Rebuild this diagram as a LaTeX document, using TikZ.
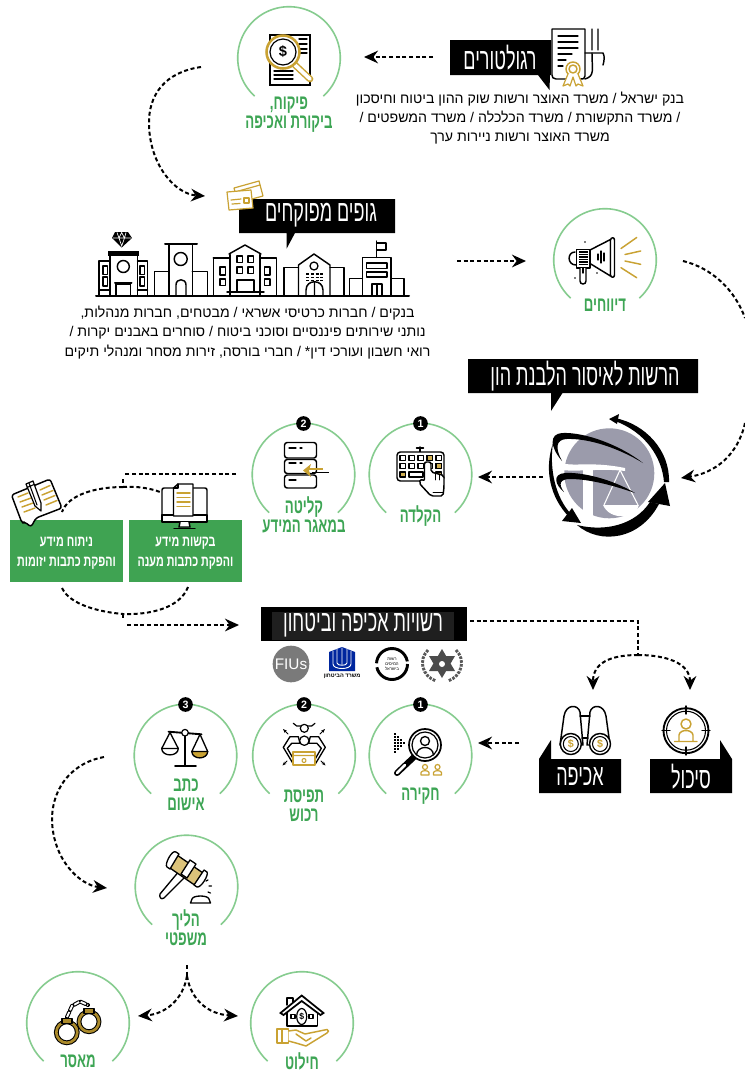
\documentclass[tikz,border=0pt]{standalone}
\usepackage{fontspec}
\usetikzlibrary{arrows.meta}
\TeXXeTstate=1
\newfontfamily\hbbody[Script=Hebrew]{Liberation Sans}
\newfontfamily\hbhead[Script=Hebrew,FakeStretch=0.6]{Liberation Sans}
\newfontfamily\hbgreen[Script=Hebrew,FakeStretch=0.64]{Liberation Sans}
\newfontfamily\hbbox[Script=Hebrew,FakeStretch=0.7]{Liberation Sans}
\setmainfont{Liberation Sans}
\newcommand\hbr[1]{\beginR #1\endR}
\definecolor{gold}{HTML}{C9A233}
\definecolor{arcgreen}{HTML}{86CC8F}
\definecolor{txtgreen}{HTML}{3DA554}
\definecolor{boxgreen}{HTML}{3FA352}
\definecolor{logogray}{HTML}{9B9BAB}
\tikzset{
  ic/.style={draw=black,line width=1.1pt,line join=round,line cap=round},
  thin ic/.style={draw=black,line width=.75pt,line cap=round},
  gd/.style={draw=gold,line width=1.1pt,line join=round,line cap=round},
  garc/.style={draw=arcgreen,line width=1.2pt},
  conn/.style={line width=1.5pt,dash pattern=on 3pt off 2pt},
  arr/.style={conn,-{Stealth[length=10.5pt,width=9.5pt,inset=3.5pt]}},
  banner/.style={fill=black},
  head/.style={text=white,font=\hbhead\fontsize{22.5}{23}\selectfont,inner sep=0pt},
  body/.style={font=\hbbody\fontsize{10.6}{14.4}\selectfont,align=center,inner sep=0pt},
  glabel/.style={text=txtgreen,font=\hbgreen\bfseries\fontsize{15.5}{14.4}\selectfont,align=center,inner sep=0pt},
  boxtxt/.style={text=white,font=\hbbox\bfseries\fontsize{11.5}{15}\selectfont,align=center,inner sep=0pt},
  badge/.style={circle,fill=black,text=white,font=\bfseries\fontsize{8}{8}\selectfont,inner sep=0pt,minimum size=11pt},
}
\newcommand\gcirc[3]{\coordinate (#1) at (#2,#3);
  \draw[garc] plot[domain=132:408,samples=70] ({#2+51.3*cos(\x)},{#3+51.3*sin(\x)});}
\begin{document}
\begin{tikzpicture}[x=.75pt,y=-.75pt]
\useasboundingbox (0,0) rectangle (745,1072);
\fill[white] (0,0) rectangle (745,1072);

% ---------- green arcs
\gcirc{cpiq}{289}{58}
\gcirc{cdiv}{605}{260}
\gcirc{ckld}{420.5}{474.5}
\gcirc{cklt}{303.5}{474.5}
\gcirc{chak}{420.5}{755.5}
\gcirc{ctfs}{304}{755.5}
\gcirc{cktv}{185.5}{755.5}
\gcirc{chal}{186.5}{886.5}
\gcirc{chil}{302}{1023}
\gcirc{cmas}{78}{1023}

% ---------- regulators
\draw[ic,fill=white] (552,29) -- (585,29) -- (585,76) .. controls (585,79) and (583,79) .. (581,79) -- (556,79) .. controls (553,79) and (552,77) .. (552,75) -- cycle;
\foreach \yy/\xe in {36/578,42/578,48/578,54/572}{\draw[ic,line width=.9pt] (558,\yy) -- (\xe,\yy);}
\draw[ic,line width=.9pt] (558,60) -- (566,60) (558,66) -- (563,66);
\draw[ic] (592,29) -- (592,50) (598,29) -- (598,50) (585,53) -- (603,53) .. controls (605,56) and (604,62) .. (603,65) ;
\draw[ic] (592,53) .. controls (592,70) and (595,76) .. (585,79);
\fill[white] (573,69) circle (9);
\draw[gd] (573,69) circle (7) (573,69) circle (4);
\draw[gd,line width=.9pt,fill=white] (568,74) -- (563,86) -- (568,84) -- (570,86) -- (573,77) -- (576,86) -- (578,84) -- (583,86) -- (578,74);
\fill[banner] (450,40) rectangle (551,75) (538,75) -- (549.5,90) -- (550,75) -- cycle;
\node[head] (reg) at (500,58) {\hbr{רגולטורים}};
\node[body] (regtxt) at (520,118) {\hbr{בנק ישראל / משרד האוצר ורשות שוק ההון ביטוח וחיסכון}\\\hbr{/ משרד התקשורת / משרד הכלכלה / משרד המשפטים /}\\\hbr{משרד האוצר ורשות ניירות ערך}};

% ---------- piquah
\draw[black,line width=1.5pt,fill=white] (270,35) rectangle (310,85);
\foreach \yy in {39,44,49,53}{\draw[ic,line width=1pt] (299,\yy) -- (307,\yy);}
\foreach \yy in {71,75,79}{\draw[ic,line width=1pt] (274,\yy) -- (293,\yy);}
\draw[gold,line width=5pt,line cap=round] (294,64) -- (310,79);
\draw[white,line width=2.8pt,line cap=round] (295,65) -- (310,79);
\fill[white] (283,52) circle (17);
\draw[gold,line width=1.9pt] (283,52) circle (16.5);
\draw[black,line width=.9pt] (283,52) circle (13);
\node[font=\bfseries\fontsize{11}{11}\selectfont,inner sep=0pt] (dollar1) at (283,52) {\$};
\node[glabel] (lpiq) at (289,115) {\hbr{פיקוח,}\\\hbr{ביקורת ואכיפה}};

% ---------- gufim
\fill[banner] (239,199) rectangle (395,233) (286.7,233) -- (286.7,248.5) -- (295,233) -- cycle;
\draw[gd,fill=white,line width=.9pt] (234,188) -- (259,181) -- (263,196) -- (250,199.5) -- (238,203) -- cycle;
\draw[gd,line width=.9pt] (235,192) -- (260,185);
\draw[gd,fill=white,line width=.9pt] (227,192) -- (251,190) -- (253,208) -- (229,210) -- cycle;
\draw[gd,line width=.9pt] (231,200) -- (241,199) (232,204) -- (240,203.5);
\draw[gd,line width=.9pt] (244,198) rectangle (249,203);
\node[head] (guf) at (321,215.5) {\hbr{גופים מפוקחים}};

% baseline
\draw[ic,line width=1.5pt] (96,296) -- (409,296);
% building 1
\draw[ic,fill=white] (110,254) rectangle (137.5,296);
\fill[black] (107.5,250.5) rectangle (139,255.5);
\draw[ic] (123.3,266.5) circle (6);
\draw[ic] (116,296) -- (116,284) -- (130.5,284) -- (130.5,296);
\draw[ic,line width=1.5pt] (115,282.5) -- (131.5,282.5);
\draw[ic] (110,261) -- (99,261) -- (99,296) (137.5,261) -- (147.5,261) -- (147.5,296);
\foreach \xx in {103,140}{\draw[ic] (\xx,266) rectangle (\xx+4.5,274.5) (\xx,277) rectangle (\xx+4.5,286);}
\draw[ic] (99,290) -- (110,290) (137.5,290) -- (147.5,290);
% diamond
\fill[black] (115,232) -- (128,232) -- (132,238) -- (121.7,247.5) -- (112,238) -- cycle;
\draw[white,line width=.5pt] (113,238) -- (131,238) (117,232.5) -- (119,238) -- (121.7,246) -- (124.5,238) -- (126,232.5) (119,238) -- (121.7,232.5) -- (124.5,238);
% building 2
\draw[ic] (169,296) -- (169,244) (192.3,296) -- (192.3,244);
\draw[ic,line width=1.5pt] (165,244) -- (197,244);
\draw[ic] (180.7,259) circle (6.5);
\draw[ic] (176,296) -- (176,285) .. controls (176,278) and (186,278) .. (186,285) -- (186,296);
\draw[ic] (154.3,296) -- (154.3,271.5) -- (169,271.5) (192.3,271.5) -- (207.5,271.5) -- (207.5,296);
% building 3
\draw[ic] (230,296) -- (230,254) (260,296) -- (260,254);
\draw[ic,fill=white] (229,254) -- (245,245) -- (261,254) ;
\draw[ic] (213.3,296) -- (213.3,258) (213.3,258) -- (230,258) (260,258) -- (276.7,258) -- (276.7,296);
\foreach \xx in {237,248}{\draw[ic,line width=.95pt] (\xx,256) rectangle (\xx+5.5,262.5) (\xx,267) rectangle (\xx+5.5,273.5);}
\draw[ic,line width=.95pt] (220,267) rectangle (225.5,275) (220,279) rectangle (225.5,285.5) (264.5,267) rectangle (270,275) (264.5,279) rectangle (270,285.5);
\draw[ic] (237,292) -- (237,280) -- (254,280) -- (254,292) (227,292) -- (264,292);
% building 4
\draw[ic] (298.5,296) -- (298.5,265) -- (314,254) -- (330,265) -- (330,296);
\draw[ic] (298.5,267.5) -- (284,267.5) -- (284,296) (330,267.5) -- (344,267.5) -- (344,296);
\draw[ic,line width=.95pt] (314,266) circle (4);
\foreach \yy in {274,277.5,280.5}{\draw[black,line width=1.1pt,dash pattern=on 2.2pt off 1.4pt] (306,\yy) -- (323,\yy);}
\draw[ic] (306,296) -- (306,290) .. controls (306,279) and (323,279) .. (323,290) -- (323,296) (314.5,283) -- (314.5,296);
% building 5
\draw[ic] (362.5,296) -- (362.5,257.5) -- (391,257.5) -- (391,296);
\draw[ic] (376.7,257.5) -- (376.7,241) (376.7,243) -- (386,243) -- (386,250) -- (376.7,250);
\draw[ic] (366.5,263) rectangle (387,268.5) (366.5,272) rectangle (387,277);
\draw[ic] (372,296) -- (372,284) -- (382,284) -- (382,296) (377,284) -- (377,296);
\draw[ic] (362.5,278.5) -- (349.5,278.5) -- (349.5,296) (391,278.5) -- (404,278.5) -- (404,296);
\node[body] (guftxt) at (247.5,332.5) {\hbr{בנקים / חברות כרטיסי אשראי / מבטחים, חברות מנהלות,}\\\hbr{נותני שירותים פיננסיים וסוכני ביטוח / סוחרים באבנים יקרות /}\\\hbr{רואי חשבון ועורכי דין* / חברי בורסה, זירות מסחר ומנהלי תיקים}};

% ---------- divuchim
\draw[ic,fill=white] (590,250) -- (610.5,239.5) -- (610.5,276) -- (590,263.5) -- cycle;
\draw[ic,fill=white] (610.5,240) .. controls (611,237) and (614.5,237) .. (614.5,240) -- (614.5,275) .. controls (614.5,278) and (611,278) .. (610.5,275) -- cycle;
\draw[ic,line width=.8pt] (598,254) -- (598,260) (601,251) -- (601,263) (604,253) -- (604,261);
\draw[ic,fill=white] (575,252) .. controls (567,252) and (567,265) .. (576,265);
\draw[ic,fill=white] (576.5,249.5) rectangle (590,268);
\foreach \yy in {252,254.5,257,259.5,262,264.5}{\draw[black,line width=.9pt] (579,\yy) -- (587.5,\yy);}
\draw[ic,fill=white] (580,268) -- (580,281) .. controls (580,285) and (586,285) .. (586,281) -- (586,268);
\draw[ic] (583,268) -- (583,273);
\fill (585,242) circle (.9) (575,278) circle (.9) (597,273) circle (.9);
\draw[gd] (621,248.5) -- (636.7,237.5) (625,254.5) -- (640.7,251) (625,261) -- (640.7,264.3) (621,267.7) -- (636.7,277.7);
\node[glabel] (ldiv) at (605,305) {\hbr{דיווחים}};

% ---------- reshut logo
\fill[banner] (468,359) rectangle (698,393) (551,393) -- (551,411) -- (562.5,393) -- cycle;
\node[head] (resh) at (585,376.5) {\hbr{הרשות לאיסור הלבנת הון}};
\fill[logogray] (609.3,473.3) circle (45);
\fill[white] (561,463) .. controls (575,467) and (590,461) .. (625,468) -- (625,471) .. controls (600,468) and (580,472) .. (561,470) -- cycle;
\fill[white] (583,466) rectangle (593,522);
\draw[white,line width=.8pt] (620,470) -- (604,505) (620,470) -- (638,505);
\fill[white] (603,505) -- (639,505) .. controls (636,519) and (610,521) .. (603,505) -- cycle;
\fill[black] (609,419) -- (619,414) -- (617,424) -- cycle;
\fill[black] (615,418) .. controls (645,424) and (670,450) .. (669,482) -- (664,482) .. controls (662,457) and (645,432) .. (615,421) -- cycle;
\fill[black] (643,463) .. controls (620,445) and (585,432) .. (562,433) .. controls (549,434) and (550,447) .. (562,461) .. controls (555,448) and (556,440) .. (566,439) .. controls (590,438) and (620,449) .. (643,463) -- cycle;
\fill[black] (635,493) .. controls (610,478) and (580,472) .. (565,473) .. controls (552,474) and (555,485) .. (564,492) .. controls (558,484) and (560,479) .. (570,479) .. controls (590,479) and (615,486) .. (635,493) -- cycle;
\fill[black] (553,443) .. controls (544,470) and (550,497) .. (569,517) -- (571,514) .. controls (556,498) and (549,470) .. (553,443) -- cycle;
\fill[black] (581,523) -- (562,521) -- (572,508) -- cycle;
\fill[black] (577,525) .. controls (600,545) and (640,540) .. (659,504) -- (650,502) .. controls (635,525) and (605,532) .. (577,525) -- cycle;
\fill[black] (665,483) -- (648,502) -- (670,506) -- cycle;

% ---------- hakleda
\node[badge] (b1a) at (420.5,423.5) {1};
\draw[ic] (420,447) -- (420,452) (416.5,448) -- (423.5,448);
\draw[ic,fill=white,rounded corners=2.5pt] (397,452) rectangle (444,481);
\foreach \xx in {400,409,418,427,436}{\foreach \yy in {455.5,463.5}{\draw[ic,line width=.8pt] (\xx,\yy) rectangle (\xx+5.5,\yy+5);}}
\draw[ic,line width=.8pt,fill=gold!85] (427,455.5) rectangle (432.5,460.5) (436,463.5) rectangle (441.5,468.5) (400,472) rectangle (405.5,477) (436,472) rectangle (441.5,477);
\draw[ic,line width=.8pt] (409,472) rectangle (423,477);
\draw[ic,fill=white,rounded corners=1.5pt] (424.5,462) -- (431,462) -- (431,472) -- (444,475.5) -- (444,487) -- (443,496) -- (431,496) -- (419,483) -- (421,479) -- (424.5,481) -- cycle;
\draw[ic,line width=.7pt] (435,474) -- (435,480) (439.5,475) -- (439.5,480) (433,492) -- (443,492);
\node[glabel] (lkld) at (420.5,516) {\hbr{הקלדה}};

% ---------- klita
\node[badge] (b2a) at (303.5,423.5) {2};
\draw[ic,fill=white,rounded corners=2pt] (284.5,442.5) rectangle (316.5,458);
\draw[ic,fill=white,rounded corners=2pt] (284.5,459.5) rectangle (316.5,473.5);
\draw[ic,fill=white,rounded corners=2pt] (284.5,475) rectangle (316.5,488);
\draw[ic,line width=.9pt] (289,448) -- (296,448) (300,448) -- (302,448) (289,463) -- (296,463) (300,463) -- (302,463) (289,480) -- (296,480);
\draw[black,line width=.8pt] (312,472.5) -- (329,472.5);
\draw[gold,line width=1.5pt] (307,469) -- (323,469);
\fill[gold] (303,470.5) -- (311,464) -- (309,470.5) -- (311,477) -- cycle;
\node[glabel] (lklt) at (304,514.5) {\hbr{קליטה}\\\hbr{במאגר המידע}};

% ---------- green boxes
\fill[boxgreen] (10,520) rectangle (123,582);
\fill[boxgreen] (129,520) rectangle (242,582);
\node[boxtxt] (ta) at (66.5,553) {\hbr{ניתוח מידע}\\\hbr{והפקת כתבות יזומות}};
\node[boxtxt] (tb) at (185.5,553) {\hbr{בקשות מידע}\\\hbr{והפקת כתבות מענה}};
% computer
\draw[ic,fill=white,rounded corners=1.5pt] (162,488) rectangle (207,521);
\draw[ic,fill=white] (162,515) rectangle (207,522);
\draw[ic,fill=white] (180,522) -- (179,527) -- (190,527) -- (189,522);
\draw[ic,fill=white] (174,528.5) -- (195,528.5);
\draw[ic,fill=white] (173.5,488) -- (178,484) -- (193,484) -- (193,516) -- (173.5,516) -- cycle;
\draw[ic,line width=.8pt] (173.5,488) -- (178,488) -- (178,484);
\draw[gd] (177,493) -- (190,493) (177,497.5) -- (190,497.5) (177,502) -- (190,502) (177,506.5) -- (190,506.5);
% note
\draw[ic,fill=white,rounded corners=2pt] (11.5,495) -- (50,479) -- (62,508) -- (36,518) -- (31,527) -- (25,522) -- (22,523) -- cycle;
\draw[gd] (18,497) -- (28,493) (20,502) -- (31,498) (22,507) -- (33,503) (24,512) -- (35,508) (40,490) -- (50,485.5) (42,495) -- (53,490.5) (44,500) -- (55,495.5) (46,505) -- (57,500.5);
\draw[ic,fill=white,line width=.9pt] (26,484) -- (33,481) -- (41,503) -- (41,511) -- (35,506) -- cycle;
\draw[ic,line width=.8pt] (29,483) -- (37,505) (27,487.5) -- (34,484.5);

% ---------- authorities banner
\fill[banner] (261,607) rectangle (467,641);
\fill[black!88!white] (272,612) rectangle (454,640);
\node[head] (rsh) at (363,625) {\hbr{רשויות אכיפה וביטחון}};
% police
\fill[black!70] (442,649) -- (455,671) -- (429,671) -- cycle (442,678) -- (429,656) -- (455,656) -- cycle;
\fill[white] (442,664) circle (3);
\draw[black!65,line width=2.2pt,dash pattern=on 2pt off .9pt] (428,650) .. controls (418,660) and (422,676) .. (436,681);
\draw[black!65,line width=2.2pt,dash pattern=on 2pt off .9pt] (456,650) .. controls (466,660) and (462,676) .. (448,681);
% tax
\draw[black,line width=2.2pt,dash pattern=on 34pt off 3pt] (392,664) circle (15.5);
\node[font=\hbbody\fontsize{3.2}{3.6}\selectfont,align=center,inner sep=0pt] (taxt) at (392,664) {\hbr{רשות}\\\hbr{המיסים}\\\hbr{בישראל}};
% defence
\fill[blue!55!black!85!cyan] (329,652) -- (342,647) -- (355,652) -- (355,671) -- (329,671) -- cycle;
\draw[white,line width=.7pt] (333,651) -- (333,664) .. controls (333,670) and (351,670) .. (351,664) -- (351,651) (337,649) -- (337,663) .. controls (337,666) and (347,666) .. (347,663) -- (347,649) (342,647.5) -- (342,664);
\node[font=\hbbody\bfseries\fontsize{4.2}{5}\selectfont,inner sep=0pt] (deft) at (342,676.5) {\hbr{משרד הביטחון}};
% FIU
\node[circle,fill=black!52,minimum size=27.5pt,inner sep=0pt,text=white,font=\fontsize{11.5}{11.5}\selectfont] (fiu) at (291,664) {FIUs};

% ---------- sikul / achifa
\fill[banner] (650,759) rectangle (732,793) (720,740) -- (732,759) -- (720,759) -- cycle;
\fill[banner] (539,759) rectangle (621,793) (551,740) -- (539,759) -- (551,759) -- cycle;
\node[head] (sik) at (691,776.5) {\hbr{סיכול}};
\node[head] (ach) at (580,776.5) {\hbr{אכיפה}};
% crosshair
\draw[ic,line width=1.4pt] (686,730.7) circle (22.5);
\draw[ic,line width=.8pt] (686,730.7) circle (19.5);
\draw[ic,line width=1.1pt] (686,706) -- (686,714) (686,747) -- (686,755) (662,730.7) -- (670,730.7) (702,730.7) -- (710,730.7);
\draw[gd] (686,724) circle (5);
\draw[gd] (679,741.5) -- (679,735) .. controls (680,729) and (692,729) .. (693,735) -- (693,741.5) (674.5,741.5) -- (697,741.5);
% binoculars
\draw[ic,fill=white] (560,745) -- (564,716) .. controls (566,704) and (578,704) .. (580,712) -- (583,745) -- cycle;
\draw[ic,fill=white] (610,745) -- (606,716) .. controls (604,704) and (592,704) .. (590,712) -- (587,745) -- cycle;
\draw[ic] (580,716) -- (590,716) (582,738) -- (588,738);
\draw[ic,fill=white] (570.8,744) circle (10.5);
\draw[ic,fill=white] (600,744) circle (10.5);
\draw[ic,line width=.8pt] (570.8,744) circle (7.5) (600,744) circle (7.5);
\node[text=gold,font=\bfseries\fontsize{8}{8}\selectfont,inner sep=0pt] (d2) at (570.8,744) {\$};
\node[text=gold,font=\bfseries\fontsize{8}{8}\selectfont,inner sep=0pt] (d3) at (600,744) {\$};

% ---------- chakira
\node[badge] (b1b) at (420.5,704.5) {1};
\foreach \xx/\ya/\yb in {395/733/754,398/736/751,401/739/748,404/742/745}{\draw[black,line width=1.1pt,dash pattern=on 1.3pt off 1pt] (\xx,\ya) -- (\xx,\yb);}
\draw[black,line width=4.5pt,line cap=round] (414,757) -- (397,773);
\draw[white,line width=2pt,line cap=round] (405,765) -- (397,773);
\draw[ic,fill=white,line width=1.3pt] (425,745) circle (16);
\draw[ic,line width=.9pt] (425,745) circle (13);
\draw[ic,line width=1pt] (425,741) circle (4.5);
\draw[ic,line width=1pt] (416.5,755) .. controls (417,745) and (433,745) .. (433.5,755);
\foreach \xx in {425,437.5}{\draw[gd,line width=.9pt] (\xx,767) circle (2.5) (\xx-4,775) -- (\xx-4,772.5) .. controls (\xx-3,770) and (\xx+3,770) .. (\xx+4,772.5) -- (\xx+4,775) -- cycle;}
\node[glabel] (lhak) at (420.5,796) {\hbr{חקירה}};

% ---------- tfisa
\node[badge] (b2b) at (304,704.5) {2};
\draw[ic,line width=.9pt] (293.3,723.3) -- (296.7,726) -- (311.7,726) -- (315,723.3);
\draw[ic,line width=1pt,fill=white] (298.3,736.7) -- (290,736.7) -- (283.3,747.3) -- (293.3,764) -- (295,761.7) -- (287.3,748.3) -- (291.7,743.3) -- (300,743.3) -- cycle;
\draw[ic,line width=1pt,fill=white] (310.3,736.7) -- (318.6,736.7) -- (325.3,747.3) -- (315.3,764) -- (313.6,761.7) -- (321.3,748.3) -- (316.9,743.3) -- (308.6,743.3) -- cycle;
\draw[ic,line width=.9pt,fill=white] (304.3,728.3) circle (4);
\draw[ic,line width=.9pt,fill=white] (304.3,740.7) circle (4.7);
\draw[gd,fill=white] (293,752) rectangle (315,765);
\draw[gd,line width=.8pt] (293,755.5) -- (315,755.5) (304,760.5) circle (2);
\draw[thin ic,-{Stealth[length=3pt]}] (288,734) -- (283,729);
\draw[thin ic,-{Stealth[length=3pt]}] (320,734) -- (325,729);
\draw[thin ic,-{Stealth[length=3pt]}] (287,761) -- (282.5,765.5);
\draw[thin ic,-{Stealth[length=3pt]}] (321,761) -- (325.5,765.5);
\node[glabel] (ltfs) at (304,805.5) {\hbr{תפיסת}\\\hbr{רכוש}};

% ---------- ktav
\node[badge] (b3) at (185.5,704.5) {3};
\draw[ic,line width=1.4pt] (185,733) -- (185,765) (175,766) -- (196,766) (168.5,731.7) -- (201.5,734.3);
\draw[ic,fill=white,line width=.9pt] (185,732.7) circle (3.3);
\draw[ic,line width=1pt] (170,732.5) -- (161.7,748.5) -- (178.3,748.5) -- cycle;
\draw[ic,line width=1pt] (161.7,748.5) .. controls (162,757) and (178,757) .. (178.3,748.5);
\fill[gold] (191.8,751.5) .. controls (192,760) and (207.5,760) .. (207.7,751.5) -- cycle;
\draw[ic,line width=1pt] (200,734.3) -- (191.8,751.5) -- (207.7,751.5) -- cycle;
\draw[ic,line width=1pt] (191.8,751.5) .. controls (192,760) and (207.5,760) .. (207.7,751.5);
\node[glabel] (lktv) at (186,794.5) {\hbr{כתב}\\\hbr{אישום}};

% ---------- halich
\draw[ic,fill=white,line width=1pt] (180,870) -- (186,876) -- (164,898) .. controls (161,900) and (159,897) .. (160,894) -- cycle;
\draw[ic,fill=gold!65,line width=1pt] (177,855) -- (168.5,867) -- (196,886) -- (204.5,874) -- cycle;
\draw[ic,fill=white,line width=1pt] (176,852) -- (179,854) -- (170,869) -- (167,867) .. controls (164,865) and (172,849) .. (176,852) -- cycle;
\draw[ic,fill=white,line width=1pt] (190,860) -- (196,864) -- (187,878) -- (181,874) -- cycle;
\draw[ic,fill=white,line width=1pt] (204,870) -- (207,872) .. controls (209,875) and (201,888) .. (197,887) -- (194,885) -- cycle;
\draw[ic,line width=1pt,fill=white] (190.5,903) -- (192,899) .. controls (193,895) and (208,895) .. (209,899) -- (210.5,903) -- cycle;
\draw[ic,line width=.9pt] (206,881) -- (208,880) (209,886) -- (211.5,886) (208,892) -- (210.5,893);
\node[glabel] (lhal) at (186,928) {\hbr{הליך}\\\hbr{משפטי}};

% ---------- chilut
\draw[ic,fill=white] (287,1005) -- (287,998) -- (293,998) -- (293,1002);
\draw[ic,line width=1.1pt] (287,1011) -- (287,1026) -- (317,1026) -- (317,1011);
\fill[white] (287.5,1010) rectangle (316.5,1025);
\draw[ic,line width=1.3pt,fill=white,line join=miter] (280.5,1013) -- (301.7,995.5) -- (323.5,1013) -- (320.5,1015) -- (301.7,1001) -- (283.5,1015) -- cycle;
\draw[ic,line width=.9pt] (301.7,1016.5) ellipse (5 and 8);
\draw[ic,line width=.9pt] (291,1014.5) rectangle (295,1018.5) (309,1014.5) rectangle (313,1018.5);
\node[font=\bfseries\fontsize{6.5}{6.5}\selectfont,inner sep=0pt] (d4) at (301.7,1016.5) {\$};
\draw[gd,fill=white] (277,1029) rectangle (288.5,1043) (282,1029) -- (282,1043);
\draw[gd,fill=white] (288.5,1031) -- (296,1030) -- (305,1034) -- (327,1029.5) .. controls (329,1030) and (329,1032) .. (327,1033) -- (306,1046) -- (296,1043) -- (288.5,1041);
\draw[gd] (296,1034) -- (306,1041) -- (311,1038);
\node[glabel] (lchi) at (302,1061) {\hbr{חילוט}};

% ---------- maasar
\draw[black,line width=3pt,line cap=round,dash pattern=on 4pt off 1.5pt] (67,1017) -- (72,1006) -- (80,1001.5) -- (88,1005);
\draw[white,line width=1.4pt,dash pattern=on 4.2pt off 1.3pt] (67,1017) -- (72,1006) -- (80,1001.5) -- (88,1005);
\draw[black,line width=3.6pt] (89,1021.7) circle (10);
\draw[gold!85!black,line width=2pt] (89,1021.7) circle (10);
\draw[black,line width=3.6pt] (66.8,1032.3) circle (10.5);
\draw[gold!85!black,line width=2pt] (66.8,1032.3) circle (10.5);
\draw[ic,fill=gold!85!black,line width=.9pt] (84,1008.5) rectangle (94,1013.5);
\draw[ic,fill=gold!85!black,line width=.9pt] (62,1018.5) rectangle (72,1023.5);
\node[glabel] (lmas) at (78,1061) {\hbr{מאסר}};

% ---------- connector ends
\coordinate (a1) at (433,57);   \coordinate (a2) at (364,57);
\coordinate (b1) at (201,67);   \coordinate (b2) at (205,196);
\coordinate (c1) at (457,261);  \coordinate (c2) at (526,261);
\coordinate (d1) at (683,261);  \coordinate (d2) at (745,318);
\coordinate (d3) at (745,423);  \coordinate (d4) at (681,478);
\coordinate (e1) at (543,477);  \coordinate (e2) at (478,477);
\coordinate (f1) at (236,474);  \coordinate (f2) at (124,474);
\coordinate (f3) at (123,479);  \coordinate (f4) at (123,487);
\coordinate (f5) at (62,512);   \coordinate (f6) at (160,492);
\coordinate (g1) at (62,588);   \coordinate (g2) at (188,587);
\coordinate (g3) at (123,614);  \coordinate (g4) at (123,620);
\coordinate (g5) at (127,625);  \coordinate (g6) at (239,625);
\coordinate (h1) at (470,621);  \coordinate (h2) at (638,621);
\coordinate (h3) at (638,655);  \coordinate (h4) at (593,690);
\coordinate (h5) at (690,690);
\coordinate (i1) at (519,743);  \coordinate (i2) at (478,743);
\coordinate (j1) at (104,757);  \coordinate (j2) at (107,888);
\coordinate (k1) at (187,965);  \coordinate (k2) at (187,976);
\coordinate (k3) at (138,1016); \coordinate (k4) at (238,1016);

% ---------- connectors
\draw[arr] (a1) -- (a2);
\draw[arr] (b1) .. controls (165,72) and (148,95) .. (149,125) .. controls (150,165) and (175,194) .. (b2);
\draw[arr] (c1) -- (c2);
\draw[conn] (d1) .. controls (712,268) and (735,290) .. (d2);
\draw[arr] (d3) .. controls (738,455) and (715,473) .. (d4);
\draw[arr] (e1) -- (e2);
\draw[conn] (f1) -- (f2);
\draw[conn] (f3) -- (f4);
\draw[conn] (f4) .. controls (95,487) and (68,495) .. (f5);
\draw[conn] (f4) .. controls (135,486) and (150,488) .. (f6);
\draw[conn] (g1) .. controls (70,605) and (100,612) .. (g3);
\draw[conn] (g2) .. controls (180,608) and (150,615) .. (g3);
\draw[conn] (g3) -- (g4);
\draw[arr] (g5) -- (g6);
\draw[conn] (h1) -- (h2) -- (h3);
\draw[arr] (h3) .. controls (610,655) and (593,663) .. (h4);
\draw[arr] (h3) .. controls (666,655) and (690,663) .. (h5);
\draw[arr] (i1) -- (i2);
\draw[arr] (j1) .. controls (75,762) and (52,785) .. (52,820) .. controls (53,860) and (80,885) .. (j2);
\draw[conn] (k1) -- (k2);
\draw[arr] (k2) .. controls (183,1000) and (165,1014) .. (k3);
\draw[arr] (k2) .. controls (191,1000) and (208,1014) .. (k4);
\end{tikzpicture}
\end{document}
